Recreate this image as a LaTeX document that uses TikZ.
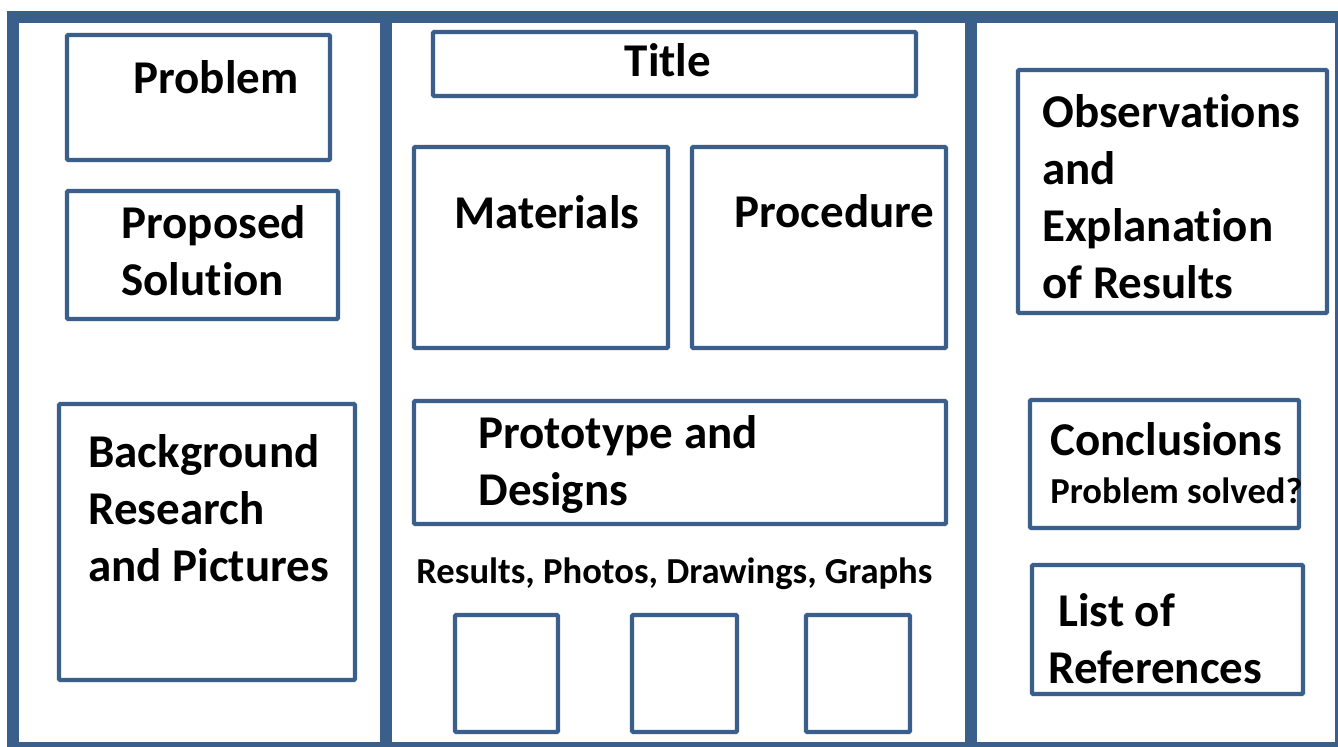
\documentclass[tikz,border=0pt]{standalone}
\usepackage{fontspec}
\setmainfont{Carlito}[Ligatures=CommonOff]
\definecolor{frameblue}{RGB}{58,95,139}
\tikzset{
  panel/.style={draw=frameblue, line width=6pt},
  box/.style={draw=frameblue, line width=2.2pt, rounded corners=0.6pt},
  lbl/.style={inner sep=0pt, anchor=base west, align=left,
    font=\bfseries\fontsize{23.5}{28.5}\selectfont},
  small/.style={inner sep=0pt, anchor=base west,
    font=\bfseries\fontsize{18.3}{22}\selectfont}
}
\begin{document}
\begin{tikzpicture}[x=0.5pt, y=-0.5pt]
\useasboundingbox (0,0) rectangle (1338,746);
\clip (0,0) rectangle (1338,746);
\fill[white] (0,0) rectangle (1338,746);

% board and its three panels
\draw[panel] (13,16.5) rectangle (1341,748);
\draw[panel] (386,16.5) -- (386,748);
\draw[panel] (971,16.5) -- (971,748);

% left panel (multi-line labels sit on their last baseline)
\draw[box] (67,35) rectangle (330,160);
\draw[box] (67,191) rectangle (338,319);
\draw[box] (59,404) rectangle (355,680);
\node (prob) at (133,93) [lbl]{Problem};
\node (sol) at (121,295) [lbl]{Proposed\\Solution};
\node (back) at (88,581) [lbl]{Background\\Research\\and Pictures};

% middle panel
\draw[box] (433,32) rectangle (916,96);
\draw[box] (414,147) rectangle (668,348);
\draw[box] (692,147) rectangle (946,348);
\draw[box] (414,401) rectangle (946,524);
\node (title) at (668,76) [lbl, anchor=base]{Title};
\node (mat) at (454,228) [lbl]{Materials};
\node (proc) at (734,227) [lbl]{Procedure};
\node (proto) at (478,505) [lbl]{Prototype and\\Designs};
\node (res) at (416,583) [small]{Results, Photos, Drawings, Graphs};
\draw[box] (455,615) rectangle (558,732);
\draw[box] (632,615) rectangle (737,732);
\draw[box] (806,615) rectangle (910,732);

% right panel
\draw[box] (1018,70) rectangle (1327,313);
\draw[box] (1030,400) rectangle (1299,528);
\draw[box] (1032,565) rectangle (1303,694);
\node (obs) at (1042,298) [lbl]{Observations\\and\\Explanation\\of Results};
\node (conc) at (1050,455) [lbl]{Conclusions};
\node (solved) at (1050,503) [small]{Problem solved?};
\node (refs) at (1058,626) [lbl]{List of};
\node (refs2) at (1048,683) [lbl]{References};

\end{tikzpicture}
\end{document}
